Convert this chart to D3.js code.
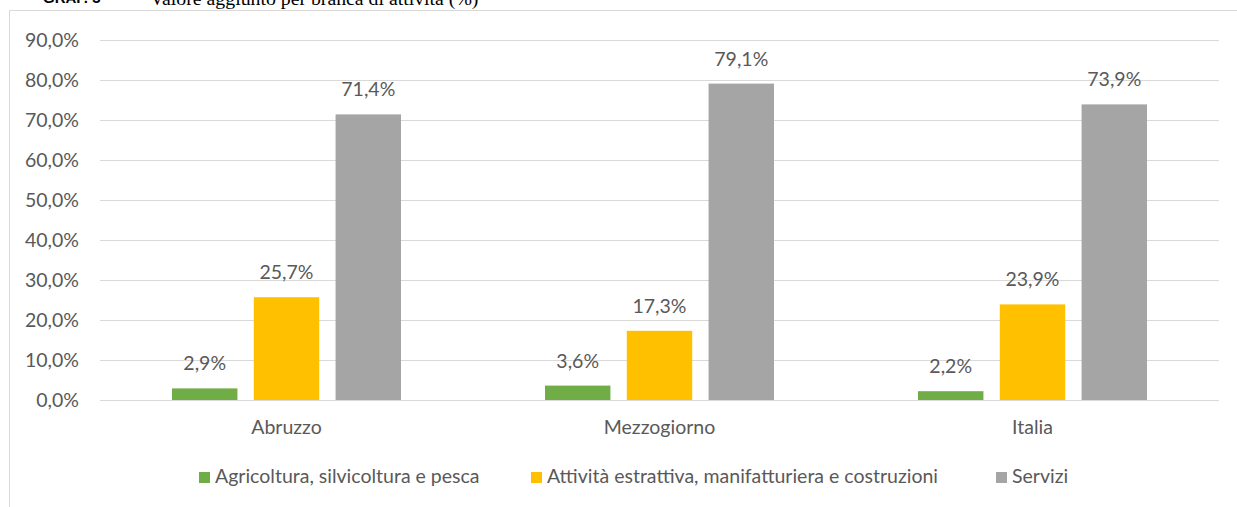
<!DOCTYPE html>
<html>
<head>
<meta charset="utf-8">
<script src="https://cdn.jsdelivr.net/npm/d3@7"></script>
<style>
  body { margin: 0; background: #fff; }
  svg text { font-family: Lato, "Open Sans", sans-serif; fill: #595959; }
</style>
</head>
<body>
<div id="chart"></div>
<script>
// data
const regions = ['Abruzzo', 'Mezzogiorno', 'Italia'];
const sectors = ['Agricoltura, silvicoltura e pesca', 'Attività estrattiva, manifatturiera e costruzioni', 'Servizi'];
const agricoltura = [2.9, 3.6, 2.2];
const industria = [25.7, 17.3, 23.9];
const servizi = [71.4, 79.1, 73.9];
const yTicks = [0, 10, 20, 30, 40, 50, 60, 70, 80, 90];
const colors = ['#70AD47', '#FFC000', '#A5A5A5'];

const series = [agricoltura, industria, servizi];
const rows = regions.map((r, i) => ({ region: r, values: series.map((s, k) => ({ key: k, value: s[i] })) }));

const W = 1237, H = 507;
const plot = { left: 100, right: 1219, top: 40, bottom: 400 };
const fs = '19.5px';

const svg = d3.select('#chart').append('svg').attr('width', W).attr('height', H);

// title (cut off at top in the original)
svg.append('text').attr('x', 43).attr('y', 3)
  .style('font-family', 'Liberation Sans, Arial, sans-serif').style('font-weight', 'bold')
  .style('font-size', '15px').style('fill', '#000').text('GRAF. 3');
svg.append('text').attr('x', 150).attr('y', 5)
  .style('font-family', 'Liberation Serif, Times New Roman, serif')
  .style('font-size', '19.8px').style('fill', '#000').text('Valore aggiunto per branca di attività (%)');

// chart frame
svg.append('path').attr('d', `M9.5,${H} V10.5 H${W}`)
  .attr('fill', 'none').attr('stroke', '#D9D9D9').attr('stroke-width', 1);

const x0 = d3.scaleBand().domain(regions).range([plot.left, plot.right]);
const x1 = d3.scaleBand().domain([0, 1, 2]).range([0, 229]).paddingInner(0.2);
const y = d3.scaleLinear().domain([0, 90]).range([plot.bottom, plot.top]);

const fmt = v => d3.format('.1f')(v).replace('.', ',') + '%';

// gridlines
const yAxis = svg.append('g').attr('transform', `translate(${plot.left},0)`)
  .call(d3.axisLeft(y).tickValues(yTicks).tickSize(-(plot.right - plot.left)).tickFormat(fmt).tickPadding(21));
yAxis.select('.domain').remove();
yAxis.selectAll('.tick line').attr('stroke', '#D9D9D9').attr('stroke-width', 1);
yAxis.selectAll('.tick text').style('font-size', fs).style('fill', '#595959');

// bars
const groups = svg.append('g').selectAll('g').data(rows).enter().append('g')
  .attr('transform', d => `translate(${x0(d.region) + (x0.bandwidth() - 229) / 2},0)`);

groups.selectAll('rect').data(d => d.values).enter().append('rect')
  .attr('x', d => x1(d.key))
  .attr('y', d => y(d.value))
  .attr('width', x1.bandwidth())
  .attr('height', d => y(0) - y(d.value))
  .attr('fill', d => colors[d.key]);

groups.selectAll('text.lbl').data(d => d.values).enter().append('text')
  .attr('class', 'lbl')
  .attr('x', d => x1(d.key) + x1.bandwidth() / 2)
  .attr('y', d => y(d.value) - 18)
  .attr('text-anchor', 'middle')
  .style('font-size', fs)
  .text(d => fmt(d.value));

// category labels
svg.append('g').selectAll('text').data(regions).enter().append('text')
  .attr('x', d => x0(d) + x0.bandwidth() / 2)
  .attr('y', 434)
  .attr('text-anchor', 'middle')
  .style('font-size', fs)
  .text(d => d);

// legend
const legendX = [199, 531, 996];
const legend = svg.append('g').selectAll('g').data(sectors).enter().append('g')
  .attr('transform', (d, i) => `translate(${legendX[i]},472)`);
legend.append('rect').attr('width', 11).attr('height', 11).attr('fill', (d, i) => colors[i]);
legend.append('text').attr('x', 16).attr('y', 11).style('font-size', fs).text(d => d);
</script>
</body>
</html>
